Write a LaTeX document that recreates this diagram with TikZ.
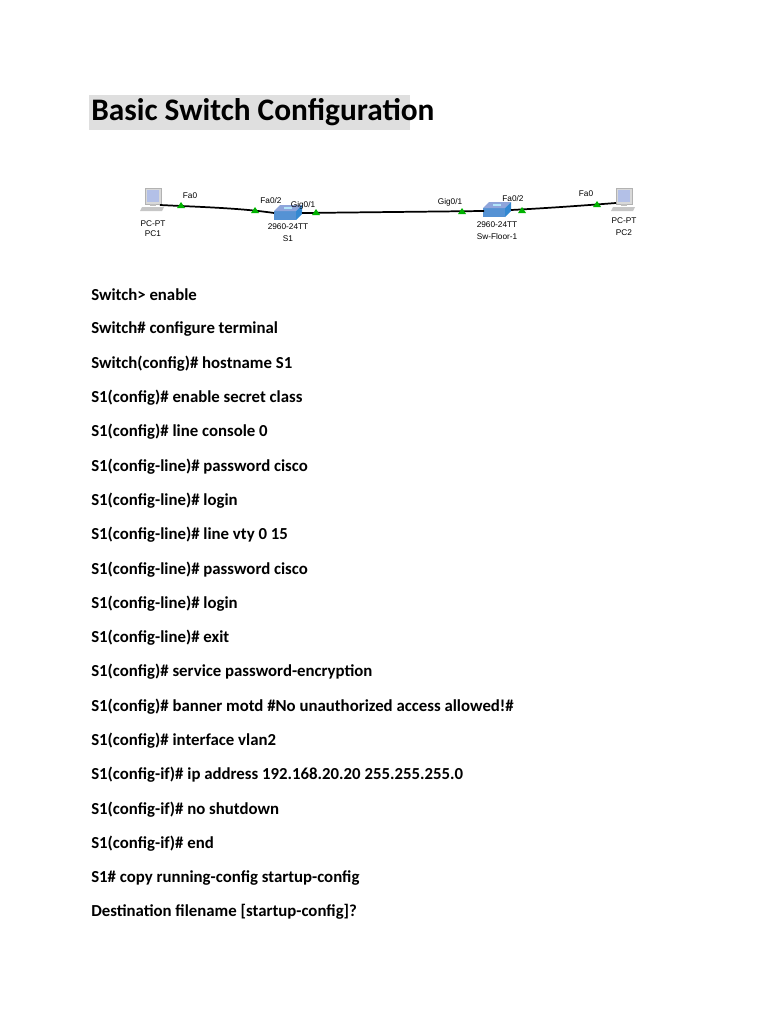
\documentclass[tikz,border=0pt]{standalone}
\usepackage{fontspec}
\setmainfont{Carlito}
\newfontfamily\arialf{Liberation Sans}
\begin{document}
\begin{tikzpicture}[x=0.75pt,y=-0.75pt,
  cmd/.style={anchor=west,font=\fontsize{12.6}{14}\selectfont\bfseries,inner sep=0},
  lbl/.style={font=\arialf\fontsize{6.2}{7}\selectfont,inner sep=0},
  port/.style={fill=green!70!black,draw=none},
  link/.style={line width=1.3pt,black}]
\useasboundingbox (0,0) rectangle (768,1024);
\fill[gray!25] (89,95) rectangle (410,130);
\node[anchor=west,inner sep=0,font=\fontsize{23.5}{26}\selectfont\bfseries] (title) at (91,112) {Basic Switch Configuration};
% devices
\begin{scope}[shift={(153,200)}]
\fill[gray!30] (-8,-12) rectangle (8,4); \fill[cyan!40!blue!30] (-6,-10) rectangle (6,2);
\draw[gray!60] (-8,-12) rectangle (8,4);
\fill[gray!50] (-3,4) rectangle (3,6); \fill[gray!45] (-11,7) -- (11,7) -- (9,11) -- (-13,11) -- cycle;
\end{scope}
\coordinate (pc1) at (160,205);
\begin{scope}[shift={(624,200)}]
\fill[gray!30] (-8,-12) rectangle (8,4); \fill[cyan!40!blue!30] (-6,-10) rectangle (6,2);
\draw[gray!60] (-8,-12) rectangle (8,4);
\fill[gray!50] (-3,4) rectangle (3,6); \fill[gray!45] (-11,7) -- (11,7) -- (9,11) -- (-13,11) -- cycle;
\end{scope}
\coordinate (pc2) at (616,203);
\foreach \cx/\cy in {288/214,497/211}{
 \fill[cyan!55!blue!70] (\cx-14,\cy-3) rectangle (\cx+8,\cy+6);
 \fill[cyan!40!blue!45] (\cx-14,\cy-3) -- (\cx-8,\cy-9) -- (\cx+14,\cy-9) -- (\cx+8,\cy-3) -- cycle;
 \fill[cyan!60!blue!85] (\cx+8,\cy-3) -- (\cx+14,\cy-9) -- (\cx+14,\cy) -- (\cx+8,\cy+6) -- cycle;
 \fill[white!70!cyan] (\cx-4,\cy-7) rectangle (\cx+4,\cy-5);
}
\coordinate (s1) at (288,212);
\coordinate (s2) at (497,210);
\draw[link] (pc1) .. controls (200,207) and (240,208) .. (274,213);
\draw[link] (302,213) -- (484,211);
\draw[link] (511,210) .. controls (550,208) and (590,205) .. (pc2);
\foreach \px/\py in {181/205,255/210,316/212,462/211,522/210,597/204}
 \fill[port] (\px-4,\py+3) -- (\px+4,\py+3) -- (\px,\py-3) -- cycle;
\node[lbl] (l1) at (190,196) {Fa0};
\node[lbl] (l2) at (271,201) {Fa0/2};
\node[lbl] (l3) at (303,205) {Gig0/1};
\node[lbl] (l4) at (450,202) {Gig0/1};
\node[lbl] (l5) at (513,199) {Fa0/2};
\node[lbl] (l6) at (586,194) {Fa0};
\node[lbl] (n1) at (153,224) {PC-PT};
\node[lbl] (n2) at (153,234) {PC1};
\node[lbl] (n3) at (288,227) {2960-24TT};
\node[lbl] (n4) at (288,239) {S1};
\node[lbl] (n5) at (497,225) {2960-24TT};
\node[lbl] (n6) at (497,237) {Sw-Floor-1};
\node[lbl] (n7) at (624,221) {PC-PT};
\node[lbl] (n8) at (624,233) {PC2};
% commands
\foreach [count=\i from 0] \t in {
{Switch> enable},
{Switch\# configure terminal},
{Switch(config)\# hostname S1},
{S1(config)\# enable secret class},
{S1(config)\# line console 0},
{S1(config-line)\# password cisco},
{S1(config-line)\# login},
{S1(config-line)\# line vty 0 15},
{S1(config-line)\# password cisco},
{S1(config-line)\# login},
{S1(config-line)\# exit},
{S1(config)\# service password-encryption},
{S1(config)\# banner motd \#No unauthorized access allowed!\#},
{S1(config)\# interface vlan2},
{S1(config-if)\# ip address 192.168.20.20 255.255.255.0},
{S1(config-if)\# no shutdown},
{S1(config-if)\# end},
{S1\# copy running-config startup-config},
{Destination filename [startup-config]?}}
 \node[cmd] (c\i) at (91,{295+34.28*\i}) {\t};
\end{tikzpicture}
\end{document}
